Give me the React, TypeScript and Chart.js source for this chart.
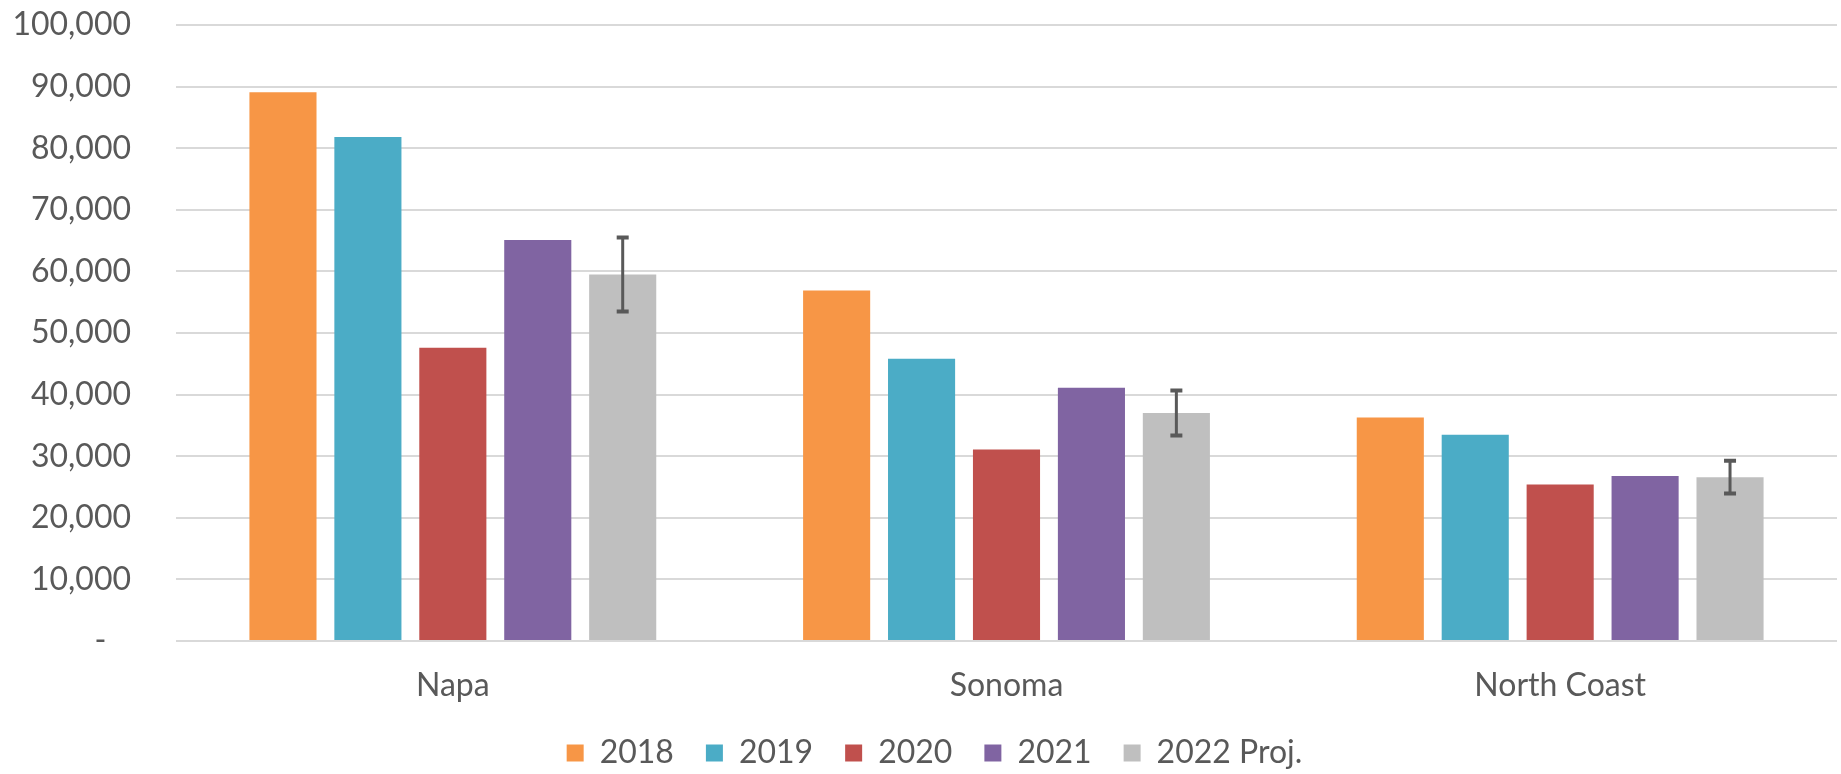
import React, { useEffect, useRef } from 'react';
import { Chart, registerables } from 'chart.js';

Chart.register(...registerables);

const categories = ['Napa', 'Sonoma', 'North Coast'];
const seriesLabels = ['2018', '2019', '2020', '2021', '2022 Proj.'];
const values2018 = [89100, 56900, 36300];
const values2019 = [81800, 45800, 33500];
const values2020 = [47600, 31100, 25400];
const values2021 = [65100, 41100, 26800];
const values2022 = [59500, 37000, 26600];
const errors2022 = [6000, 3650, 2650];
const seriesColors = ['#F79646', '#4BACC6', '#C0504D', '#8064A2', '#BFBFBF'];
const yMin = 0;
const yMax = 100000;
const yStep = 10000;

const FONT = 'Lato';
const TEXT = '#595959';

const errorBarPlugin = {
  id: 'errorBars',
  afterDatasetsDraw(chart: any) {
    const meta = chart.getDatasetMeta(4);
    const yScale = chart.scales.y;
    const ctx = chart.ctx;
    ctx.save();
    ctx.strokeStyle = '#595959';
    meta.data.forEach((bar: any, i: number) => {
      const v = values2022[i];
      const e = errors2022[i];
      const top = yScale.getPixelForValue(v + e);
      const bot = yScale.getPixelForValue(v - e);
      const x = bar.x;
      ctx.lineWidth = 3;
      ctx.beginPath();
      ctx.moveTo(x, top);
      ctx.lineTo(x, bot);
      ctx.stroke();
      ctx.lineWidth = 4;
      ctx.beginPath();
      ctx.moveTo(x - 6, top);
      ctx.lineTo(x + 6, top);
      ctx.moveTo(x - 6, bot);
      ctx.lineTo(x + 6, bot);
      ctx.stroke();
    });
    ctx.restore();
  },
};

const legendShiftPlugin = {
  id: 'legendShift',
  afterLayout(chart: any) {
    if (chart.legend) {
      chart.legend.left += 16;
      chart.legend.right += 16;
    }
  },
};

export default function App() {
  const ref = useRef<HTMLCanvasElement | null>(null);
  useEffect(() => {
    if (!ref.current) return;
    const all = [values2018, values2019, values2020, values2021, values2022];
    const chart = new Chart(ref.current, {
      type: 'bar',
      data: {
        labels: categories,
        datasets: all.map((d, i) => ({
          label: seriesLabels[i],
          data: d,
          backgroundColor: seriesColors[i],
          borderWidth: 0,
          barPercentage: 0.79,
          categoryPercentage: 0.767,
        })),
      },
      options: {
        animation: false,
        responsive: false,
        maintainAspectRatio: false,
        layout: { padding: { top: 25, right: 4, left: 0, bottom: -5 } },
        plugins: {
          legend: {
            position: 'bottom',
            labels: {
              color: TEXT,
              font: { family: FONT, size: 32 },
              boxWidth: 17,
              boxHeight: 17,
              padding: 32,
            },
          },
          tooltip: { enabled: false },
        },
        scales: {
          x: {
            grid: { display: false },
            border: { display: false },
            ticks: { color: TEXT, font: { family: FONT, size: 32 }, padding: 17 },
            afterFit: (scale: any) => {
              scale.height = 64;
            },
          },
          y: {
            min: yMin,
            max: yMax,
            border: { display: false },
            grid: { color: '#D9D9D9', lineWidth: 2, drawTicks: false },
            afterFit: (scale: any) => {
              scale.width = 176;
              scale.paddingTop = 0;
              scale.paddingBottom = 0;
            },
            ticks: {
              stepSize: yStep,
              color: TEXT,
              font: { family: FONT, size: 32 },
              padding: 45,
              callback: (v: any) => (Number(v) === 0 ? '-   ' : Number(v).toLocaleString('en-US')),
            },
          },
        },
      },
      plugins: [errorBarPlugin, legendShiftPlugin],
    });
    return () => chart.destroy();
  }, []);
  return (
    <div style={{ position: 'fixed', left: 0, top: 0, width: 1841, height: 774, background: '#fff' }}>
      <canvas ref={ref} width={1841} height={774} />
    </div>
  );
}
